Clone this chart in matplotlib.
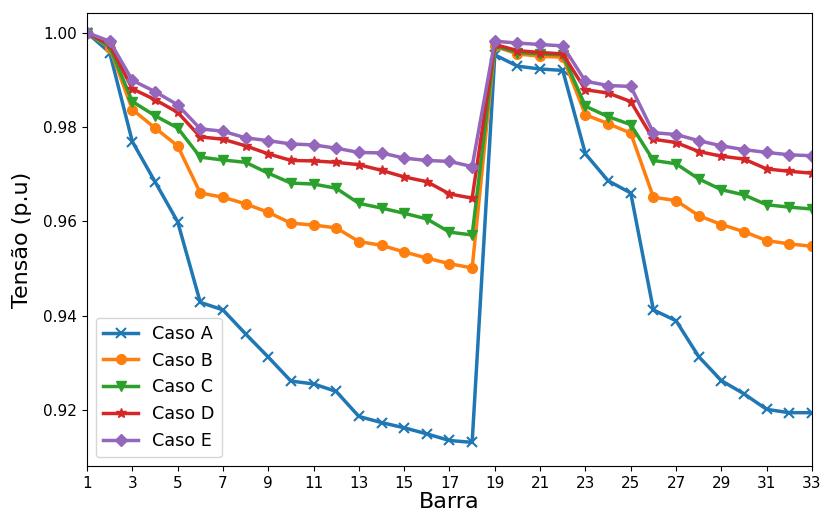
import matplotlib
matplotlib.use("Agg")
import matplotlib.pyplot as plt
import numpy as np

# tensoes por barra (p.u)
barras = list(range(1, 34))

caso_a = [1.0000, 0.9958, 0.9769, 0.9684, 0.9599, 0.9428, 0.9412, 0.9361, 0.9312, 0.9261,
          0.9255, 0.9239, 0.9186, 0.9173, 0.9162, 0.9149, 0.9135, 0.9131,
          0.9953, 0.9929, 0.9923, 0.9920, 0.9743, 0.9686, 0.9660, 0.9412, 0.9389, 0.9313,
          0.9262, 0.9234, 0.9201, 0.9194, 0.9194]
caso_b = [1.0000, 0.9968, 0.9837, 0.9798, 0.9760, 0.9660, 0.9651, 0.9637, 0.9619, 0.9596,
          0.9592, 0.9586, 0.9557, 0.9549, 0.9535, 0.9522, 0.9510, 0.9501,
          0.9971, 0.9955, 0.9950, 0.9948, 0.9826, 0.9807, 0.9787, 0.9651, 0.9644, 0.9612,
          0.9593, 0.9578, 0.9559, 0.9552, 0.9547]
caso_c = [1.0000, 0.9970, 0.9854, 0.9824, 0.9798, 0.9736, 0.9730, 0.9725, 0.9702, 0.9681,
          0.9679, 0.9670, 0.9638, 0.9628, 0.9617, 0.9605, 0.9577, 0.9571,
          0.9972, 0.9958, 0.9955, 0.9953, 0.9844, 0.9822, 0.9805, 0.9729, 0.9722, 0.9690,
          0.9667, 0.9656, 0.9635, 0.9630, 0.9626]
caso_d = [1.0000, 0.9975, 0.9881, 0.9858, 0.9831, 0.9779, 0.9774, 0.9760, 0.9743, 0.9729,
          0.9728, 0.9725, 0.9720, 0.9708, 0.9694, 0.9684, 0.9658, 0.9649,
          0.9975, 0.9962, 0.9958, 0.9955, 0.9879, 0.9872, 0.9854, 0.9774, 0.9767, 0.9748,
          0.9738, 0.9732, 0.9711, 0.9706, 0.9702]
caso_e = [1.0000, 0.9982, 0.9899, 0.9875, 0.9847, 0.9796, 0.9791, 0.9777, 0.9771, 0.9764,
          0.9762, 0.9755, 0.9746, 0.9745, 0.9734, 0.9729, 0.9727, 0.9716,
          0.9982, 0.9978, 0.9975, 0.9972, 0.9897, 0.9888, 0.9886, 0.9788, 0.9784, 0.9771,
          0.9760, 0.9752, 0.9746, 0.9741, 0.9739]

fig = plt.figure(figsize=(8.21, 5.16), dpi=100)
ax = fig.add_axes([0.106, 0.097, 0.883, 0.878])

ax.plot(barras, caso_a, marker='x', lw=2.5, ms=7, mew=1.5, label='Caso A')
ax.plot(barras, caso_b, marker='o', lw=2.5, ms=7, label='Caso B')
ax.plot(barras, caso_c, marker='v', lw=2.5, ms=7, label='Caso C')
ax.plot(barras, caso_d, marker='*', lw=2.5, ms=7, label='Caso D')
ax.plot(barras, caso_e, marker='D', lw=2.5, ms=6, label='Caso E')

ax.set_xlim(1, 33)
ax.set_ylim(0.9081, 1.0042)
ax.set_xticks(range(1, 34, 2))
ax.set_yticks([0.92, 0.94, 0.96, 0.98, 1.00])
ax.set_yticklabels(['0.92', '0.94', '0.96', '0.98', '1.00'])
ax.tick_params(labelsize=11)
ax.set_xlabel('Barra', fontsize=16, labelpad=1)
ax.set_ylabel('Tensão (p.u)', fontsize=16, labelpad=8)
ax.legend(loc='lower left', fontsize=12.7)

fig.savefig('out.png', dpi=100)
